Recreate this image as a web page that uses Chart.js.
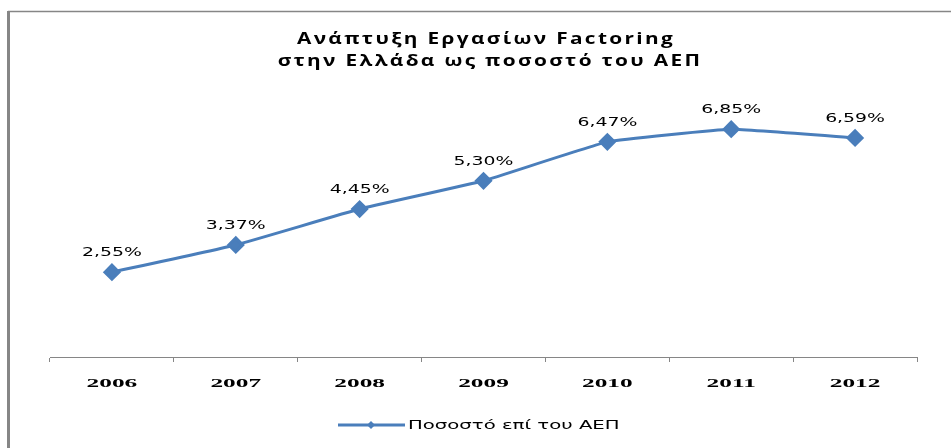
<!DOCTYPE html>
<html>
<head>
<meta charset="utf-8">
<script src="https://cdn.jsdelivr.net/npm/chart.js@4"></script>
<style>
  html, body { margin: 0; padding: 0; background: #fff; }
  #wrap { width: 951px; height: 448px; position: relative; }
</style>
</head>
<body>
<div id="wrap"><canvas id="chart" width="951" height="448"></canvas></div>
<script>
const years = ['2006', '2007', '2008', '2009', '2010', '2011', '2012'];
const percentOfGdp = [2.55, 3.37, 4.45, 5.30, 6.47, 6.85, 6.59];
const seriesName = 'Ποσοστό επί του ΑΕΠ';
const titleLines = ['Ανάπτυξη Εργασίων Factoring', 'στην Ελλάδα ως ποσοστό του ΑΕΠ'];

const blue = '#4a7ebb';
const frameGray = '#868686';

// the original picture is stretched sideways, so text is drawn wide
function wideText(ctx, text, x, y, sx, spacing) {
  ctx.save();
  ctx.translate(x, y);
  ctx.scale(sx, 1);
  ctx.letterSpacing = (spacing || 0) + 'px';
  ctx.fillText(text, 0, 0);
  ctx.restore();
}

const framePlugin = {
  id: 'frame',
  beforeDraw(chart) {
    const ctx = chart.ctx;
    ctx.save();
    ctx.fillStyle = '#fff';
    ctx.fillRect(0, 0, chart.width, chart.height);
    ctx.strokeStyle = frameGray;
    ctx.lineWidth = 1.5;
    ctx.beginPath();
    ctx.moveTo(8, 11.5);
    ctx.lineTo(chart.width, 11.5);
    ctx.stroke();
    ctx.fillStyle = frameGray;
    ctx.fillRect(7, 11, 3, chart.height - 11);
    ctx.restore();
  }
};

const textPlugin = {
  id: 'texts',
  afterDraw(chart) {
    const ctx = chart.ctx;
    const meta = chart.getDatasetMeta(0);
    const xs = chart.scales.x;
    ctx.save();
    ctx.fillStyle = '#000';
    ctx.textAlign = 'center';
    ctx.textBaseline = 'alphabetic';

    // title
    ctx.font = 'bold 16px "Open Sans"';
    wideText(ctx, titleLines[0], 486, 44, 1.3, 1.8);
    wideText(ctx, titleLines[1], 490, 66, 1.3, 1.8);

    // value labels
    ctx.font = '13px "DejaVu Sans"';
    meta.data.forEach((pt, i) => {
      const txt = percentOfGdp[i].toFixed(2).replace('.', ',') + '%';
      wideText(ctx, txt, pt.x, pt.y - 16, 1.45);
    });

    // category labels
    ctx.font = 'bold 13px "Liberation Serif"';
    years.forEach((y, i) => {
      wideText(ctx, y, xs.getPixelForValue(i), 387, 1.95);
    });

    // legend
    const ly = 425;
    ctx.strokeStyle = blue;
    ctx.lineWidth = 3;
    ctx.beginPath();
    ctx.moveTo(338, ly);
    ctx.lineTo(405, ly);
    ctx.stroke();
    ctx.fillStyle = blue;
    ctx.beginPath();
    ctx.moveTo(371, ly - 4);
    ctx.lineTo(375, ly);
    ctx.lineTo(371, ly + 4);
    ctx.lineTo(367, ly);
    ctx.closePath();
    ctx.fill();
    ctx.fillStyle = '#000';
    ctx.textAlign = 'left';
    ctx.font = '12px "DejaVu Sans"';
    wideText(ctx, seriesName, 408, 429, 1.64);
    ctx.restore();
  }
};

new Chart(document.getElementById('chart'), {
  type: 'line',
  data: {
    labels: years,
    datasets: [{
      label: seriesName,
      data: percentOfGdp,
      borderColor: blue,
      backgroundColor: blue,
      borderWidth: 3,
      pointStyle: 'rectRot',
      pointRadius: 7,
      pointHoverRadius: 7,
      tension: 0.1
    }]
  },
  options: {
    responsive: false,
    animation: false,
    events: [],
    layout: { padding: { left: 50, right: 34, top: 91, bottom: 86 } },
    plugins: {
      title: { display: false },
      legend: { display: false },
      tooltip: { enabled: false }
    },
    scales: {
      x: {
        offset: true,
        grid: {
          display: true,
          drawOnChartArea: false,
          drawTicks: true,
          tickLength: 5,
          color: frameGray,
          offset: true
        },
        border: { display: true, color: frameGray, width: 1 },
        ticks: { display: false }
      },
      y: {
        display: false,
        min: 0,
        max: 8
      }
    }
  },
  plugins: [framePlugin, textPlugin]
});
</script>
</body>
</html>
